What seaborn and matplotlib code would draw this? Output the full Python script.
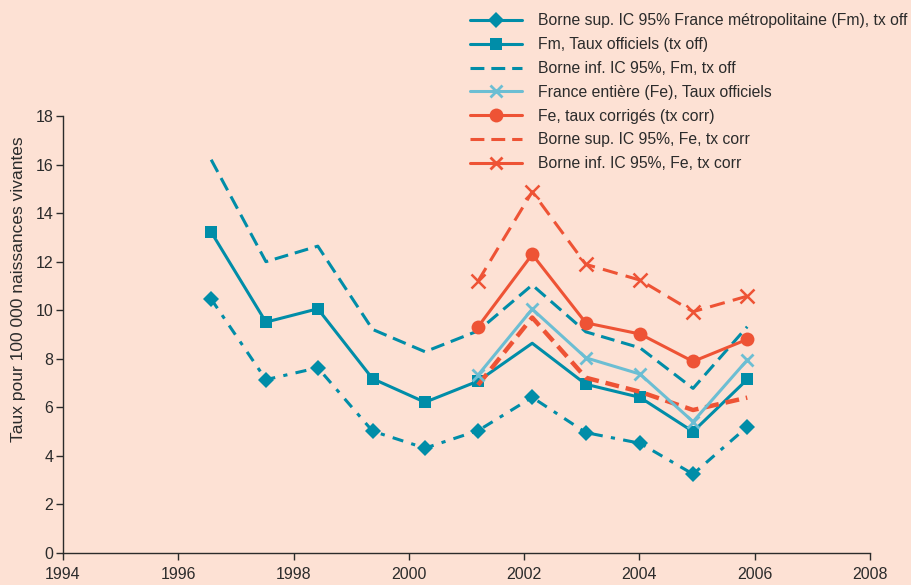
import pandas as pd
import matplotlib
matplotlib.use("Agg")
import matplotlib.pyplot as plt
from matplotlib.lines import Line2D
import seaborn as sns

# positions des points sur l'axe des années
annees_fm = [1996.57, 1997.52, 1998.42, 1999.37, 2000.28, 2001.20,
             2002.14, 2003.07, 2004.01, 2004.93, 2005.87]
annees_fe = annees_fm[5:]

# France métropolitaine
fm_sup = [16.2, 12.0, 12.64, 9.21, 8.29, 9.15, 11.04, 9.11, 8.45, 6.78, 9.32]
fm_tx_off = [13.22, 9.51, 10.06, 7.18, 6.21, 7.08, 8.64, 6.95, 6.41, 5.0, 7.15]
fm_inf = [10.46, 7.14, 7.63, 5.02, 4.32, 5.04, 6.41, 4.96, 4.52, 3.25, 5.2]

# France entière
fe_tx_off = [7.33, 10.05, 8.04, 7.37, 5.41, 7.95]
fe_tx_corr = [9.32, 12.30, 9.48, 9.02, 7.89, 8.80]
fe_bas = [6.92, 9.7, 7.22, 6.64, 5.89, 6.4]
fe_haut = [11.2, 14.88, 11.89, 11.24, 9.94, 10.58]

libelles = [
    "Borne sup. IC 95% France métropolitaine (Fm), tx off",
    "Fm, Taux officiels (tx off)",
    "Borne inf. IC 95%, Fm, tx off",
    "France entière (Fe), Taux officiels",
    "Fe, taux corrigés (tx corr)",
    "Borne sup. IC 95%, Fe, tx corr",
    "Borne inf. IC 95%, Fe, tx corr",
]

TEAL = "#008DA8"
BLEU = "#6CBED3"
ROUGE = "#EE5335"
FOND = "#FDE1D4"
TEXTE = "#2b2b2b"

sns.set_style("ticks")
plt.rcParams["font.family"] = ["Liberation Sans", "DejaVu Sans"]
plt.rcParams["lines.scale_dashes"] = False
plt.rcParams["text.color"] = TEXTE
plt.rcParams["axes.labelcolor"] = TEXTE
plt.rcParams["xtick.color"] = TEXTE
plt.rcParams["ytick.color"] = TEXTE

fig = plt.figure(figsize=(9.11, 5.85), dpi=100, facecolor=FOND)
ax = fig.add_axes([0.0692, 0.0547, 0.8858, 0.747])
ax.set_facecolor(FOND)


def trace(x, y, color, **kw):
    df = pd.DataFrame({"annee": x, "taux": y})
    sns.lineplot(data=df, x="annee", y="taux", ax=ax, sort=False,
                 color=color, markeredgecolor=color, **kw)


trace(annees_fm, fm_sup, TEAL, lw=2.2, linestyle=(0, (10, 5)))
trace(annees_fm, fm_tx_off, TEAL, lw=2.2, marker="s", markersize=8.5,
      markeredgewidth=0, markevery=[0, 1, 2, 3, 4, 5, 7, 8, 9, 10])
trace(annees_fm, fm_inf, TEAL, lw=2.2, linestyle=(0, (8, 6, 3, 6)),
      marker="D", markersize=8, markeredgewidth=0)
trace(annees_fe, fe_bas, ROUGE, lw=3.2, linestyle=(0, (10, 5)))
trace(annees_fe, fe_tx_off, BLEU, lw=2.2, marker="x", markersize=9,
      markeredgewidth=2)
trace(annees_fe, fe_tx_corr, ROUGE, lw=2.2, marker="o", markersize=10,
      markeredgewidth=0)
trace(annees_fe, fe_haut, ROUGE, lw=2.2, linestyle=(0, (11, 6)),
      marker="x", markersize=10, markeredgewidth=1.8)

ax.set_xlim(1994, 2008)
ax.set_ylim(0, 18)
ax.set_xticks(range(1994, 2009, 2))
ax.set_yticks(range(0, 19, 2))
ax.tick_params(axis="both", labelsize=11.5, length=5, width=1, color=TEXTE, pad=2)
ax.tick_params(axis="x", pad=5)
ax.set_xlabel("")
ax.set_ylabel("Taux pour 100 000 naissances vivantes", fontsize=12.5)
ax.yaxis.set_label_coords(-0.046, 0.604)
sns.despine(ax=ax)
for s in ("left", "bottom"):
    ax.spines[s].set_color(TEXTE)
    ax.spines[s].set_linewidth(1)
ax.grid(False)

poignees = [
    Line2D([], [], color=TEAL, lw=2.2, marker="D", markersize=8, markeredgewidth=0),
    Line2D([], [], color=TEAL, lw=2.2, marker="s", markersize=8, markeredgewidth=0),
    Line2D([], [], color=TEAL, lw=2.2, linestyle=(0, (10, 5))),
    Line2D([], [], color=BLEU, lw=2.2, marker="x", markersize=9, markeredgewidth=2),
    Line2D([], [], color=ROUGE, lw=2.2, marker="o", markersize=10, markeredgewidth=0),
    Line2D([], [], color=ROUGE, lw=2.2, linestyle=(0, (10, 5))),
    Line2D([], [], color=ROUGE, lw=2.2, marker="x", markersize=9, markeredgewidth=2),
]
fig.legend(poignees, libelles, loc="upper left", bbox_to_anchor=(0.516, 0.977),
           frameon=False, fontsize=11.3, handlelength=3.3, handletextpad=1.05,
           labelspacing=0.56, borderaxespad=0, borderpad=0)

fig.savefig("out.png", dpi=100, facecolor=FOND)
